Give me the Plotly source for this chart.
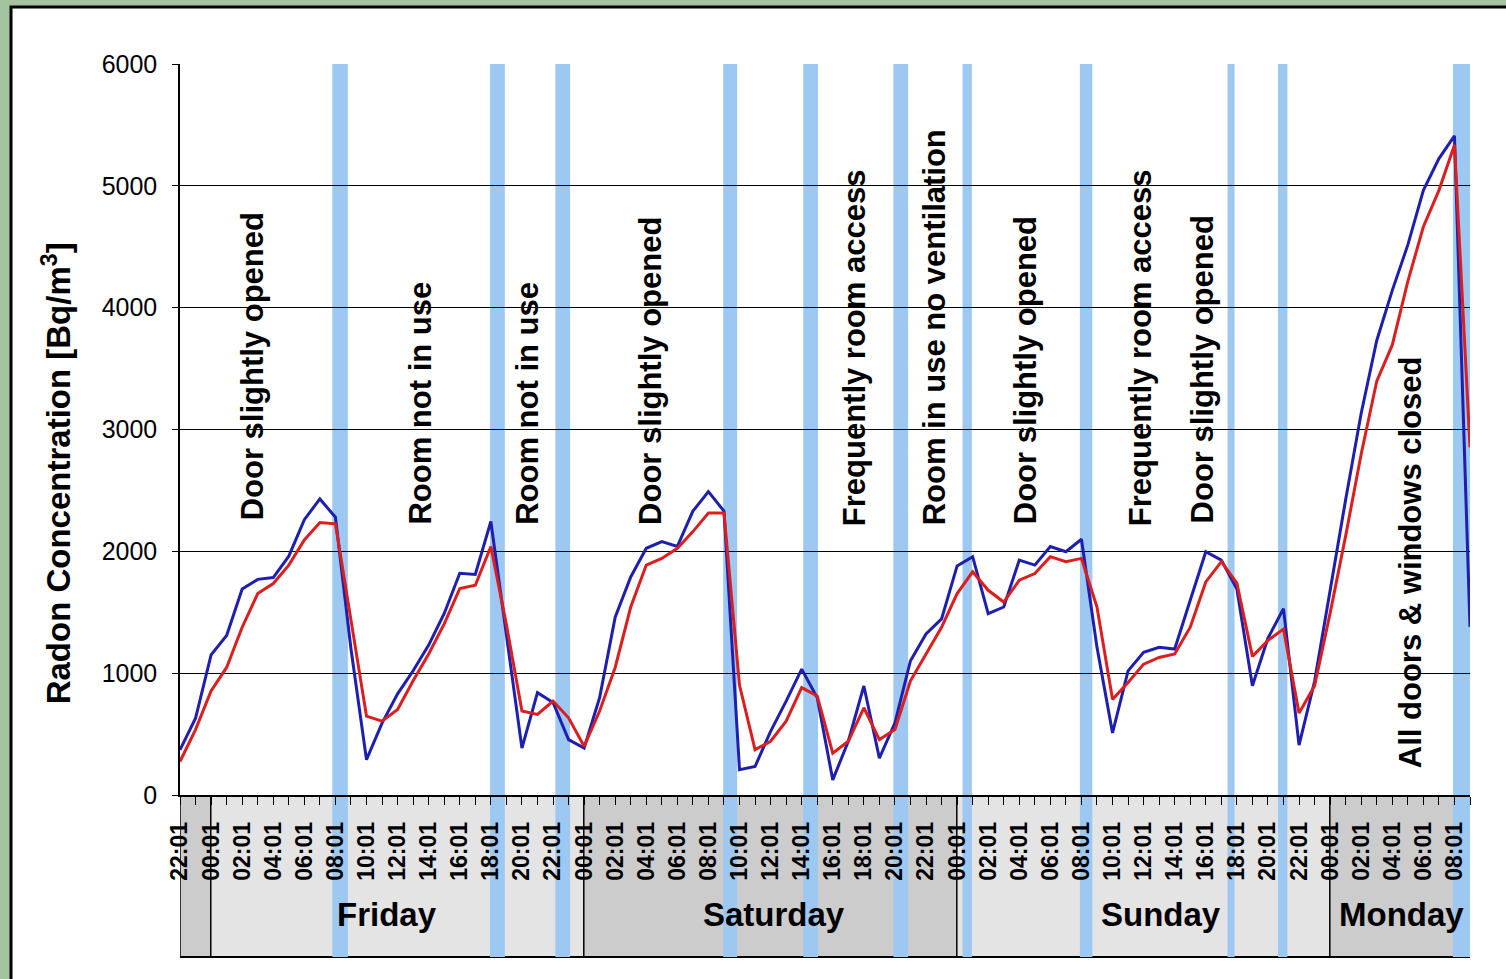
import plotly.graph_objects as go

# Hourly radon readings, first sample Thursday 22:01, last Monday 09:01
hours = list(range(84))

radon_blue = [
    370, 630, 1150, 1310, 1690, 1770, 1785, 1960, 2260, 2430,
    2280, 1200, 290, 590, 830, 1020, 1230, 1490, 1820, 1810,
    2245, 1300, 385, 840, 760, 455, 385, 800, 1460, 1790,
    2025, 2080, 2040, 2330, 2490, 2330, 207, 234, 523, 771,
    1033, 799, 124, 441, 895, 303, 592, 1102, 1322, 1446,
    1880, 1956, 1488, 1543, 1928, 1887, 2039, 1997, 2099, 1212,
    510, 1019, 1171, 1212, 1198, 1598, 1997, 1928, 1690, 896,
    1287, 1530, 410, 933, 1679, 2425, 3134, 3731, 4142, 4515,
    4963, 5224, 5410, 1380,
]

radon_red = [
    275, 537, 854, 1047, 1377, 1653, 1736, 1887, 2094, 2237,
    2226, 1450, 647, 606, 702, 937, 1157, 1405, 1694, 1722,
    2039, 1400, 689, 661, 771, 634, 400, 689, 1047, 1543,
    1887, 1942, 2025, 2162, 2314, 2314, 900, 372, 441, 606,
    881, 813, 344, 441, 716, 455, 537, 937, 1157, 1377,
    1653, 1832, 1680, 1584, 1763, 1818, 1956, 1915, 1942, 1543,
    785, 923, 1074, 1129, 1157, 1377, 1749, 1915, 1740, 1138,
    1269, 1362, 672, 896, 1493, 2127, 2799, 3396, 3694, 4216,
    4664, 4963, 5336, 2854,
]

tick_hours = list(range(0, 84, 2))
tick_labels = [
    "22:01",
    "00:01", "02:01", "04:01", "06:01", "08:01", "10:01",
    "12:01", "14:01", "16:01", "18:01", "20:01", "22:01",
    "00:01", "02:01", "04:01", "06:01", "08:01", "10:01",
    "12:01", "14:01", "16:01", "18:01", "20:01", "22:01",
    "00:01", "02:01", "04:01", "06:01", "08:01", "10:01",
    "12:01", "14:01", "16:01", "18:01", "20:01", "22:01",
    "00:01", "02:01", "04:01", "06:01", "08:01",
]

# Day segments (hours since first sample); the first stub is late Thursday
day_names = ["Friday", "Saturday", "Sunday", "Monday"]
day_start = [0, 1.98, 25.98, 49.98, 73.98]
day_end = [1.98, 25.98, 49.98, 73.98, 83]
day_label_hour = [13.3, 38.2, 63.1, 78.6]

# Ventilation periods (hours since first sample)
vent_start = [9.8, 19.95, 24.15, 34.95, 40.1, 45.9, 50.35, 57.9, 67.4, 70.65, 81.9]
vent_end = [10.8, 20.9, 25.1, 35.85, 41.05, 46.85, 50.95, 58.7, 67.85, 71.25, 83.2]

# Room-condition notes: text, hour, bottom of text (Bq/m3)
notes = [
    ("Door slightly opened", 4.65, 2240),
    ("Room not in use", 15.45, 2200),
    ("Room not in use", 22.35, 2200),
    ("Door slightly opened", 30.3, 2200),
    ("Frequently room access", 43.4, 2190),
    ("Room in use no ventilation", 48.6, 2200),
    ("Door slightly opened", 54.4, 2210),
    ("Frequently room access", 61.8, 2190),
    ("Door slightly opened", 65.8, 2210),
    ("All doors & windows closed", 79.15, 205),
]

FONT = "Liberation Sans, Arial, sans-serif"
BOX_BOTTOM = -0.2216   # lower edge of the day box, paper units
W, H = 1506, 979
ML, MR, MT, MB = 180, 36, 64, 184
PW, PH = W - ML - MR, H - MT - MB

fig = go.Figure()

fig.add_trace(go.Scatter(
    x=hours, y=radon_blue, mode="lines",
    line=dict(color="#1e1eb0", width=3), showlegend=False,
))
fig.add_trace(go.Scatter(
    x=hours, y=radon_red, mode="lines",
    line=dict(color="#dc1e1e", width=3), showlegend=False,
))

shapes = []
# white panel with dark frame on a green page
shapes.append(dict(
    type="rect", xref="paper", yref="paper", layer="below",
    x0=(11 - ML) / PW, x1=(W + 20 - ML) / PW,
    y0=-(H + 20 - MT - PH) / PH, y1=(MT + PH - 7) / PH,
    fillcolor="white", line=dict(color="black", width=3),
))
# day bands under the time axis
for i, (s, e) in enumerate(zip(day_start, day_end)):
    shapes.append(dict(
        type="rect", xref="x", yref="paper", layer="below",
        x0=s, x1=e, y0=BOX_BOTTOM, y1=0,
        fillcolor="#cccccc" if i % 2 == 0 else "#e4e4e4",
        line=dict(width=0),
    ))
# box outline and day separators
shapes.append(dict(type="line", xref="x", yref="paper", layer="below",
                   x0=0, x1=83, y0=BOX_BOTTOM, y1=BOX_BOTTOM,
                   line=dict(color="black", width=2)))
shapes.append(dict(type="line", xref="x", yref="paper", layer="below",
                   x0=0, x1=0, y0=BOX_BOTTOM, y1=0,
                   line=dict(color="black", width=1.5)))
for s in day_start[1:]:
    shapes.append(dict(type="line", xref="x", yref="paper", layer="below",
                       x0=s, x1=s, y0=BOX_BOTTOM, y1=0,
                       line=dict(color="black", width=1.5)))
# ventilation bars
for s, e in zip(vent_start, vent_end):
    shapes.append(dict(
        type="rect", xref="x", yref="paper", layer="below",
        x0=s, x1=e, y0=BOX_BOTTOM, y1=1,
        fillcolor="#9cc8f2", line=dict(width=0),
    ))

annotations = []
for text, hx, yb in notes:
    annotations.append(dict(
        x=hx, y=yb, xref="x", yref="y", text=text, showarrow=False,
        textangle=-90, xanchor="center", yanchor="bottom",
        font=dict(family=FONT, size=31, color="black", weight="bold"),
    ))
for name, hx in zip(day_names, day_label_hour):
    annotations.append(dict(
        x=hx, y=-0.164, xref="x", yref="paper", text=name, showarrow=False,
        xanchor="center", yanchor="middle",
        font=dict(family=FONT, size=33, color="black", weight="bold"),
    ))
annotations.append(dict(
    x=(57 - ML) / PW, y=0.44, xref="paper", yref="paper",
    text="Radon Concentration [Bq/m<sup>3</sup>]", showarrow=False,
    textangle=-90, xanchor="center", yanchor="middle",
    font=dict(family=FONT, size=33, color="black", weight="bold"),
))

fig.update_layout(
    width=W, height=H,
    margin=dict(l=ML, r=MR, t=MT, b=MB, pad=0),
    paper_bgcolor="#a3c49f",
    plot_bgcolor="rgba(0,0,0,0)",
    shapes=shapes,
    annotations=annotations,
    font=dict(family=FONT, color="black"),
)

fig.update_xaxes(
    range=[0, 83], tickmode="array", tickvals=tick_hours, ticktext=tick_labels,
    tickangle=-90, ticks="outside", ticklen=8, tickwidth=1, tickcolor="black",
    tickfont=dict(family=FONT, size=23, color="black", weight="bold"),
    ticklabelstandoff=8,
    minor=dict(tickmode="linear", tick0=0, dtick=1, ticks="outside",
               ticklen=8, tickwidth=1, tickcolor="black", showgrid=False),
    showline=True, linecolor="black", linewidth=1.5,
    showgrid=False, zeroline=False,
)
fig.update_yaxes(
    range=[0, 6000], dtick=1000, ticks="outside", ticklen=6,
    tickcolor="black", tickfont=dict(family=FONT, size=25, color="black"),
    ticklabelstandoff=10,
    showline=True, linecolor="black", linewidth=1.5,
    showgrid=True, gridcolor="black", gridwidth=1, zeroline=False,
)

fig.write_html("out.html")
